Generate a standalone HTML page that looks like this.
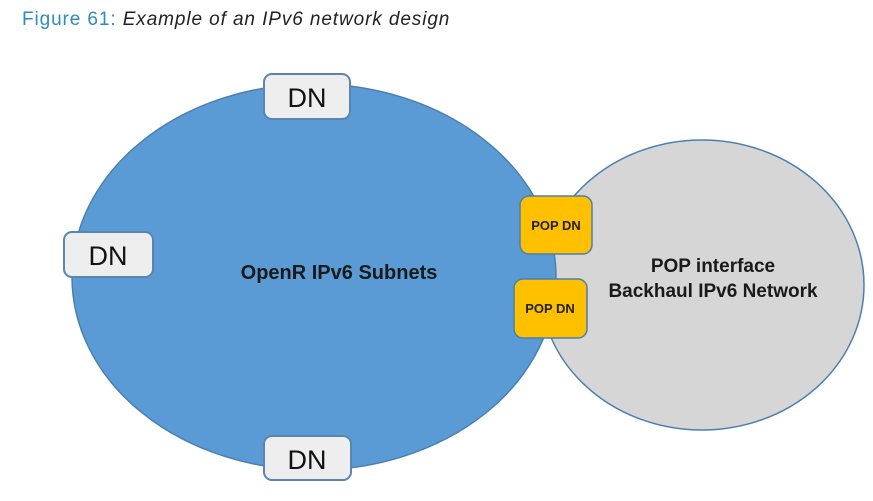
<!DOCTYPE html>
<html><head><style>
body{margin:0;background:#fff;width:873px;height:496px;overflow:hidden;font-family:"Liberation Sans",sans-serif}
</style></head><body>
<svg width="873" height="496" xmlns="http://www.w3.org/2000/svg">
<text x="22" y="25" font-size="19" letter-spacing="0.9" fill="#2d8bbf" font-family="Liberation Sans">Figure 61: <tspan fill="#222" font-style="italic">Example of an IPv6 network design</tspan></text>
<ellipse cx="702" cy="285" rx="162" ry="145" fill="#d6d6d6" stroke="#4a7fb0" stroke-width="1.5"/>
<ellipse cx="314" cy="277" rx="242" ry="193" fill="#5b9bd5" stroke="#4a7fb0" stroke-width="1.5"/>
<g fill="#eeeeee" stroke="#5a85b0" stroke-width="2">
<rect x="264" y="74" width="86" height="45" rx="8"/>
<rect x="64" y="232" width="89" height="45" rx="8"/>
<rect x="264" y="436" width="87" height="44" rx="8"/>
</g>
<g font-size="27" fill="#111" text-anchor="middle">
<text x="307" y="107">DN</text>
<text x="108" y="265">DN</text>
<text x="307" y="469">DN</text>
</g>
<g fill="#ffc000" stroke="#4a7fb0" stroke-width="1.5">
<rect x="520" y="196" width="72" height="58" rx="9"/>
<rect x="514" y="279" width="73" height="59" rx="9"/>
</g>
<g font-size="13" font-weight="bold" fill="#222" text-anchor="middle">
<text x="556" y="230">POP DN</text>
<text x="550" y="313">POP DN</text>
</g>
<text x="339" y="279" font-size="20" font-weight="bold" fill="#1a1a1a" text-anchor="middle">OpenR IPv6 Subnets</text>
<g font-size="19" font-weight="bold" fill="#1a1a1a" text-anchor="middle">
<text x="713" y="272">POP interface</text>
<text x="713" y="297">Backhaul IPv6 Network</text>
</g>
</svg>
</body></html>
